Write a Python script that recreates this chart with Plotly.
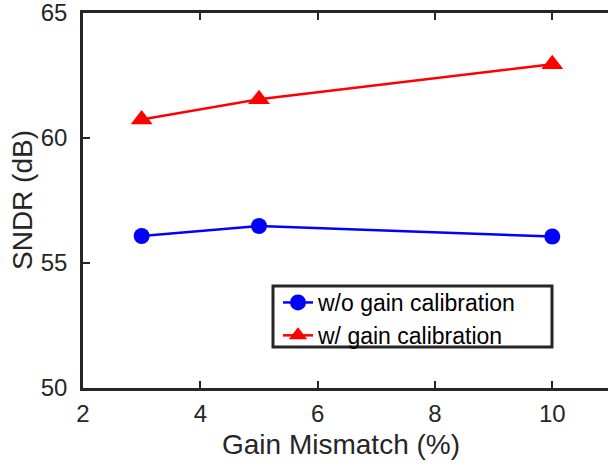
import plotly.graph_objects as go

# Measured SNDR versus gain mismatch
gain_mismatch = [3, 5, 10]
sndr_without_cal = [56.08, 56.48, 56.06]
sndr_with_cal = [60.74, 61.55, 62.95]

x_ticks = [2, 4, 6, 8, 10]
y_ticks = [50, 55, 60, 65]

AX = "#262626"
FONT = "Liberation Sans, Arial, Helvetica, sans-serif"

# plot area in pixels
L, R, T, B = 83, 608, 13, 388
PW, PH = R - L, B - T


def px(x):
    return (x - L) / PW


def py(y):
    return (B - y) / PH


fig = go.Figure()
fig.add_trace(go.Scatter(
    x=gain_mismatch, y=sndr_without_cal, mode="lines+markers",
    name="w/o gain calibration",
    line=dict(color="#0000ff", width=2.5),
    marker=dict(symbol="circle", size=16, color="#0000ff"),
))
fig.add_trace(go.Scatter(
    x=gain_mismatch, y=sndr_with_cal, mode="lines+markers",
    name="w/ gain calibration",
    line=dict(color="#ff0000", width=2.5),
    marker=dict(symbol="triangle-up", size=19, color="#ff0000"),
))

fig.update_layout(
    width=608, height=464,
    margin=dict(l=L, r=608 - R, t=T, b=464 - B),
    paper_bgcolor="white", plot_bgcolor="white",
    font=dict(family=FONT, color=AX),
    showlegend=True,
    legend=dict(
        x=px(278), y=py(281), xanchor="left", yanchor="top",
        borderwidth=0, bgcolor="rgba(0,0,0,0)",
        font=dict(size=23, color="#000000", family=FONT),
        tracegroupgap=0, itemwidth=30,
    ),
    xaxis=dict(
        range=[2, 10.95], tickvals=x_ticks,
        showline=True, linecolor=AX, linewidth=2.5, mirror="ticks",
        ticks="inside", ticklen=7, tickwidth=2, tickcolor=AX,
        showgrid=False, zeroline=False,
        tickfont=dict(size=24, color=AX), ticklabelstandoff=2,
        ticklabeloverflow="allow",
    ),
    yaxis=dict(
        range=[50, 65], tickvals=y_ticks,
        showline=True, linecolor=AX, linewidth=2.5, mirror=False,
        ticks="inside", ticklen=7, tickwidth=2, tickcolor=AX,
        showgrid=False, zeroline=False,
        tickfont=dict(size=24, color=AX), ticklabelstandoff=8,
        ticklabeloverflow="allow",
    ),
    yaxis2=dict(
        overlaying="y", side="right", range=[50, 65], tickvals=y_ticks,
        showline=False, ticks="inside", ticklen=6, tickwidth=2, tickcolor=AX,
        showticklabels=False, showgrid=False, zeroline=False,
    ),
)

# Legend frame
fig.add_shape(type="rect", xref="paper", yref="paper",
              x0=px(273), x1=px(552), y0=py(347), y1=py(286),
              line=dict(color=AX, width=3), fillcolor="rgba(0,0,0,0)",
              layer="above")

# Axis titles
fig.add_annotation(text="Gain Mismatch (%)", xref="paper", yref="paper",
                   x=px(341), y=py(445),
                   xanchor="center", yanchor="middle", showarrow=False,
                   font=dict(size=28, color=AX, family=FONT))
fig.add_annotation(text="SNDR (dB)", xref="paper", yref="paper",
                   x=px(22), y=py(200),
                   xanchor="center", yanchor="middle", showarrow=False,
                   textangle=-90,
                   font=dict(size=28, color=AX, family=FONT))

fig.write_html("out.html")
